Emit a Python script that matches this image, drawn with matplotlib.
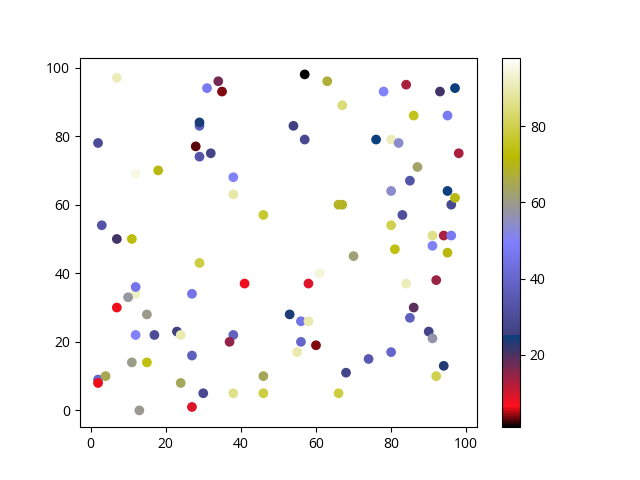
import matplotlib

matplotlib.use("Agg")
import matplotlib.pyplot as plt

plt.rcParams["font.family"] = ["Open Sans", "DejaVu Sans"]

# point positions and colour values
xs = [7, 31, 34, 35, 29, 29, 2, 28, 32, 29, 12, 18, 38, 38, 46, 3, 7, 11,
      57, 63, 67, 78, 84, 93, 97, 86, 95, 54, 57, 76, 80, 82, 98, 87, 85, 80,
      95, 96, 97, 66, 67, 83, 80, 91, 94, 96, 29, 41, 12, 10, 12, 27, 7, 15,
      12, 17, 23, 24, 38, 37, 27, 11, 15, 2, 4, 2, 24, 30, 38, 46, 46, 8, 13,
      27, 81, 91, 95, 70, 61, 58, 84, 92, 86, 85, 53, 56, 58, 56, 55, 60, 74,
      80, 68, 90, 91, 94, 92, 66]
ys = [97, 94, 96, 93, 83, 84, 78, 77, 75, 74, 69, 70, 68, 63, 57, 54, 50, 50,
      98, 96, 89, 93, 95, 93, 94, 86, 86, 83, 79, 79, 79, 78, 75, 71, 67, 64,
      64, 60, 62, 60, 60, 57, 54, 51, 51, 51, 43, 37, 34, 33, 36, 34, 30, 28,
      22, 22, 23, 22, 22, 20, 16, 14, 14, 9, 10, 8, 8, 5, 5, 10, 5, 1, 0,
      1, 47, 48, 46, 45, 40, 37, 37, 38, 30, 27, 28, 26, 26, 20, 17, 19, 15,
      17, 11, 23, 21, 13, 10, 5]
cs = [91, 47, 17, 4, 37, 24, 30, 3, 27, 33, 95, 71, 50, 89, 77, 33, 21, 73,
      1, 67, 84, 50, 13, 21, 25, 75, 47, 26, 29, 25, 91, 54, 13, 63, 33, 54,
      25, 29, 71, 69, 69, 31, 80, 86, 13, 47, 79, 6, 92, 58, 45, 45, 6, 60,
      50, 30, 26, 90, 38, 15, 37, 60, 74, 40, 65, 6, 64, 29, 86, 64, 79, 98, 59,
      9, 74, 50, 71, 62, 94, 9, 91, 14, 19, 37, 24, 45, 90, 40, 90, 4, 35,
      40, 27, 27, 57, 23, 80, 79]

fig, ax = plt.subplots(figsize=(6.4, 4.8), dpi=100)
sc = ax.scatter(xs, ys, c=cs, cmap="gist_stern")
fig.colorbar(sc, ax=ax)

fig.savefig("out.png", dpi=100)
